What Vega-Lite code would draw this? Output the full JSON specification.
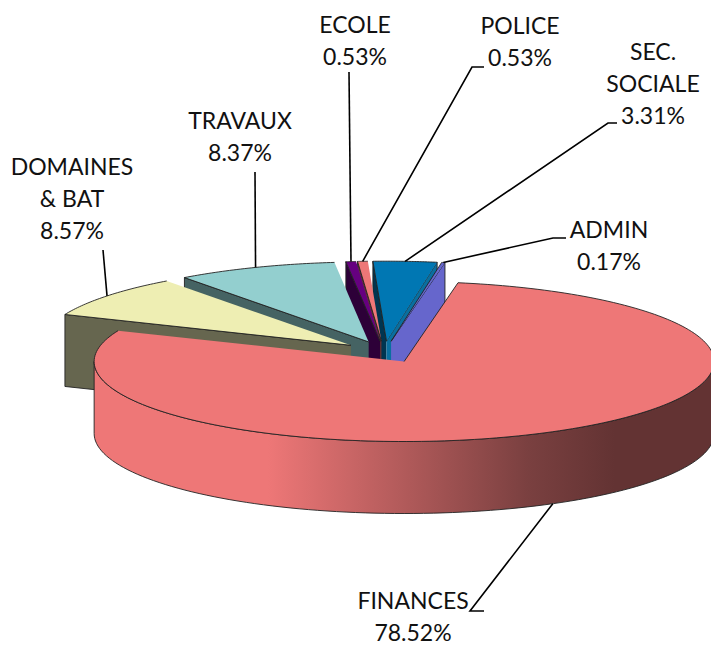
{"$schema":"https://vega.github.io/schema/vega-lite/v6.json","width":711,"height":648,"padding":0,"autosize":{"type":"none"},"background":"white","view":{"stroke":null},
"data":{"values":[
{"name":"SEC","title":"SEC.\nSOCIALE","value":3.31},
{"name":"ADMIN","title":"ADMIN","value":0.17},
{"name":"POLICE","title":"POLICE","value":0.53},
{"name":"ECOLE","title":"ECOLE","value":0.53},
{"name":"TRAVAUX","title":"TRAVAUX","value":8.37},
{"name":"DOMAINES","title":"DOMAINES\n& BAT","value":8.57},
{"name":"FINANCES","title":"FINANCES","value":78.52}]},
"transform":[
{"calculate":"indexof(['ADMIN','SEC','POLICE','ECOLE','TRAVAUX','DOMAINES','FINANCES'],datum.name)","as":"rank"},
{"window":[{"op":"sum","field":"value","as":"cum"}],"sort":[{"field":"rank","order":"ascending"}]},
{"calculate":"370.01-3.6*datum.cum","as":"a0"},
{"calculate":"370.01-3.6*(datum.cum-datum.value)","as":"a1"},
{"calculate":"(datum.a0+datum.a1)/2*PI/180","as":"mid"},
{"calculate":"384+42*sin(datum.mid)","as":"ax"},
{"calculate":"352-10.84*cos(datum.mid)","as":"ay"}],
"encoding":{
"x":{"field":"px","type":"quantitative","axis":null,"scale":{"domain":[0,711],"nice":false,"zero":false}},
"y":{"field":"py","type":"quantitative","axis":null,"scale":{"domain":[648,0],"nice":false,"zero":false}}},
"layer":[
{"transform":[{"filter":"datum.name!='FINANCES'"},
{"calculate":"['start','end','top']","as":"parts"},{"flatten":["parts"],"as":["part"]},
{"filter":"datum.part=='top'||(datum.part=='start'&&sin(datum.a0*PI/180)<0)||(datum.part=='end'&&sin(datum.a1*PI/180)>0)"},
{"calculate":"sequence(0,42)","as":"ks"},{"flatten":["ks"],"as":["k"]},
{"filter":"datum.part=='top'||datum.k<4"},
{"calculate":"(datum.part=='top'?datum.a0+(datum.a1-datum.a0)*(datum.k-1)/40:(datum.part=='start'?datum.a0:datum.a1))*PI/180","as":"ang"},
{"calculate":"datum.part=='top'?datum.k>0:(datum.k==1||datum.k==2)","as":"rim"},
{"calculate":"datum.ax+(datum.rim?310*sin(datum.ang):0)","as":"px"},
{"calculate":"datum.ay+(datum.rim?-80*cos(datum.ang):0)+(datum.part!='top'&&datum.k>=2?72:0)","as":"py"},
{"calculate":"datum.name+' '+datum.part","as":"key"}],
"mark":{"type":"line","stroke":"#222222","strokeWidth":0.9,"strokeJoin":"round","interpolate":"linear"},
"encoding":{"order":{"field":"k","type":"quantitative"},"detail":{"field":"key"},
"fill":{"field":"key","type":"nominal","legend":null,"sort":null,"scale":{
"domain":["DOMAINES start","DOMAINES end","DOMAINES top","TRAVAUX start","TRAVAUX end","TRAVAUX top","ECOLE start","ECOLE end","ECOLE top","POLICE start","POLICE end","POLICE top","SEC start","SEC end","SEC top","ADMIN start","ADMIN end","ADMIN top"],
"range":["#66664F","#66664F","#EEEEB3","#456363","#456363","#93CFCF","#2D0038","#2D0038","#660080","#663333","#663333","#EE7777","#003550","#0A6F9F","#0077B3","#6666CC","#6666CC","#6666CC"]}}}},
{"transform":[{"filter":"datum.name=='FINANCES'"},
{"calculate":"sequence(0,202)","as":"ks"},{"flatten":["ks"],"as":["k"]},
{"calculate":"(90+180*(datum.k<=100?datum.k/100:(201-datum.k)/100))*PI/180","as":"ang"},
{"calculate":"datum.ax+310*sin(datum.ang)","as":"px"},
{"calculate":"datum.ay-80*cos(datum.ang)+(datum.k>100?72:0)","as":"py"}],
"mark":{"type":"line","strokeWidth":0.9,"stroke":"#222222","fill":{"gradient":"linear","x1":1,"x2":0,"y1":0,"y2":0,"stops":[{"offset":0,"color":"#633333"},{"offset":0.16,"color":"#633333"},{"offset":0.3,"color":"#7A4040"},{"offset":0.72,"color":"#EE7777"},{"offset":1,"color":"#EE7777"}]}},
"encoding":{"order":{"field":"k","type":"quantitative"}}},
{"transform":[{"filter":"datum.name=='FINANCES'"},
{"calculate":"sequence(0,202)","as":"ks"},{"flatten":["ks"],"as":["k"]},
{"calculate":"(datum.a0+(datum.a1-datum.a0)*(datum.k-1)/200)*PI/180","as":"ang"},
{"calculate":"datum.ax+(datum.k>0?310*sin(datum.ang):0)","as":"px"},
{"calculate":"datum.ay+(datum.k>0?-80*cos(datum.ang):0)","as":"py"}],
"mark":{"type":"line","strokeWidth":0.9,"stroke":"#222222","fill":"#EE7777"},
"encoding":{"order":{"field":"k","type":"quantitative"}}},
{"transform":[{"calculate":"[0,1,2]","as":"ks"},{"flatten":["ks"],"as":["k"]},
{"calculate":"{'ECOLE':349,'POLICE':472,'SEC':608,'ADMIN':553,'TRAVAUX':255,'DOMAINES':103,'FINANCES':470}[datum.name]","as":"ex"},
{"calculate":"{'ECOLE':72,'POLICE':67,'SEC':123,'ADMIN':238,'TRAVAUX':172,'DOMAINES':250,'FINANCES':611}[datum.name]","as":"ey"},
{"calculate":"{'POLICE':12,'SEC':9,'ADMIN':13,'FINANCES':14}[datum.name]||0","as":"tail"},
{"calculate":"datum.k==0?datum.ax+310*sin(datum.mid):(datum.k==1?datum.ex:datum.ex+datum.tail)","as":"px"},
{"calculate":"datum.k==0?datum.ay-80*cos(datum.mid)+(datum.name=='FINANCES'?72:0):datum.ey","as":"py"}],
"mark":{"type":"line","stroke":"#000000","strokeWidth":1.6},
"encoding":{"detail":{"field":"name"},"order":{"field":"k","type":"quantitative"}}},
{"transform":[
{"calculate":"{'ECOLE':355,'POLICE':520,'SEC':653,'ADMIN':609,'TRAVAUX':240,'DOMAINES':72,'FINANCES':413}[datum.name]","as":"px"},
{"calculate":"{'ECOLE':15,'POLICE':16,'SEC':42,'ADMIN':220,'TRAVAUX':111,'DOMAINES':157,'FINANCES':591}[datum.name]","as":"py"},
{"calculate":"datum.title+'\\n'+format(datum.value,'.2f')+'%'","as":"txt"}],
"mark":{"type":"text","font":"Lato","fontSize":23,"lineHeight":32,"lineBreak":"\n","align":"center","baseline":"top","color":"#111111"},
"encoding":{"text":{"field":"txt","type":"nominal"}}}
]}
